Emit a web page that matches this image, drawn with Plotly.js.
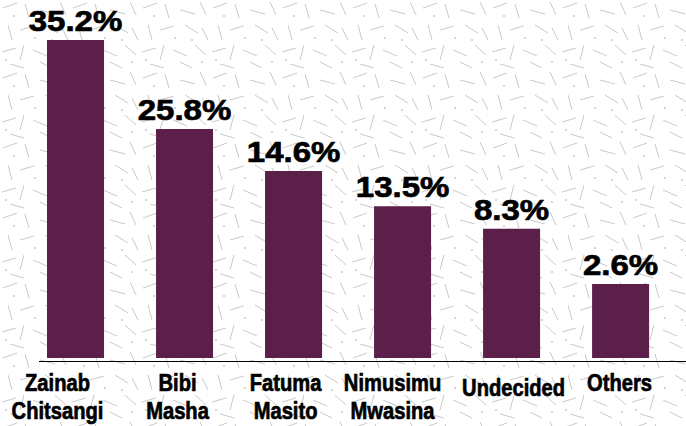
<!DOCTYPE html>
<html>
<head>
<meta charset="utf-8">
<script src="https://cdn.plot.ly/plotly-3.0.1.min.js"></script>
<style>
html,body{margin:0;padding:0;width:686px;height:426px;overflow:hidden;}
body{
  background-color:#ffffff;
  background-image:url("data:image/svg+xml;utf8,<svg xmlns='http://www.w3.org/2000/svg' width='70' height='70'><g stroke='%23c8c8c8' stroke-width='1' fill='none'><line x1='3' y1='8' x2='17' y2='3'/><line x1='25' y1='4' x2='29' y2='18'/><line x1='40' y1='10' x2='55' y2='14'/><line x1='60' y1='2' x2='66' y2='15'/><line x1='8' y1='25' x2='12' y2='40'/><line x1='20' y1='30' x2='34' y2='26'/><line x1='45' y1='25' x2='58' y2='33'/><line x1='2' y1='52' x2='16' y2='48'/><line x1='24' y1='45' x2='20' y2='60'/><line x1='33' y1='50' x2='47' y2='56'/><line x1='55' y1='45' x2='66' y2='55'/><line x1='10' y1='64' x2='24' y2='68'/><line x1='40' y1='62' x2='52' y2='68'/><line x1='62' y1='28' x2='68' y2='40'/></g><g fill='%23c8c8c8'><circle cx='35' cy='38' r='1'/><circle cx='14' cy='16' r='1'/><circle cx='52' cy='40' r='1'/><circle cx='6' cy='60' r='1'/><circle cx='62' cy='62' r='1'/></g></svg>");
}
#chart{width:686px;height:426px;}
.xtick text, text.bartext{stroke:#000000;stroke-width:0.7px;}
</style>
</head>
<body>
<div id="chart"></div>
<script>
// Categories (x tick labels)
const candidates = ["Zainab<br>Chitsangi", "Bibi<br>Masha", "Fatuma<br>Masito", "Nimusimu<br>Mwasina", "Undecided", "Others"];
// Percentages printed above the bars
const shares = [35.2, 25.8, 14.6, 13.5, 8.3, 2.6];
// Bar lengths as drawn in the picture (the infographic is not to scale)
const drawnLengths = [35.2, 25.35, 20.7, 16.8, 14.3, 8.2];

const labels = shares.map(v => v.toFixed(1) + "%");

const trace = {
  type: "bar",
  x: candidates,
  y: drawnLengths,
  text: labels,
  textposition: "outside",
  constraintext: "none",
  cliponaxis: false,
  width: 0.523,
  marker: {color: "#5b1f4a"},
  textfont: {family: "Liberation Sans, Arial, sans-serif", size: 30, color: "#000000", weight: "bold"},
  hoverinfo: "none"
};

const layout = {
  width: 686,
  height: 426,
  margin: {l: 39, r: 0, t: 20, b: 65},
  paper_bgcolor: "rgba(0,0,0,0)",
  plot_bgcolor: "rgba(0,0,0,0)",
  showlegend: false,
  xaxis: {
    type: "category",
    range: [-0.335, 5.60],
    showline: true,
    linecolor: "#000000",
    linewidth: 1,
    showgrid: false,
    zeroline: false,
    ticks: "",
    tickangle: 0,
    automargin: false,
    tickfont: {family: "Liberation Sans, Arial, sans-serif", size: 24, color: "#000000", weight: "bold"},
    fixedrange: true
  },
  yaxis: {
    range: [-0.33, 37.42],
    visible: false,
    showgrid: false,
    zeroline: false,
    fixedrange: true
  }
};

// small label nudges seen in the reference layout (px)
const labelNudgeX = [-18, -7, -8, -10, 2, -1];
const labelNudgeY = [0, 0, 0, 0, 5, 0];

Plotly.newPlot("chart", [trace], layout, {displayModeBar: false, staticPlot: true}).then(gd => {
  // condense tick labels horizontally (reference uses a narrow bold face)
  gd.querySelectorAll(".xtick text").forEach((t, i) => {
    const cx = parseFloat(t.getAttribute("x") || "0");
    const tr = t.getAttribute("transform") || "";
    const nx = labelNudgeX[i] || 0, ny = labelNudgeY[i] || 0;
    t.setAttribute("transform", tr + " translate(" + nx + "," + ny + ") translate(" + cx + ",0) scale(0.84,1) translate(" + (-cx) + ",0)");
    t.querySelectorAll("tspan.line").forEach((s, j) => { if (j > 0) s.setAttribute("dy", "1.18em"); });
  });
  // widen the bold percentage labels slightly
  gd.querySelectorAll("text.bartext").forEach(t => {
    const cx = parseFloat(t.getAttribute("x") || "0");
    const tr = t.getAttribute("transform") || "";
    t.setAttribute("transform", tr + " translate(" + cx + ",0) scale(1.1,1) translate(" + (-cx) + ",0)");
  });
});
</script>
</body>
</html>
